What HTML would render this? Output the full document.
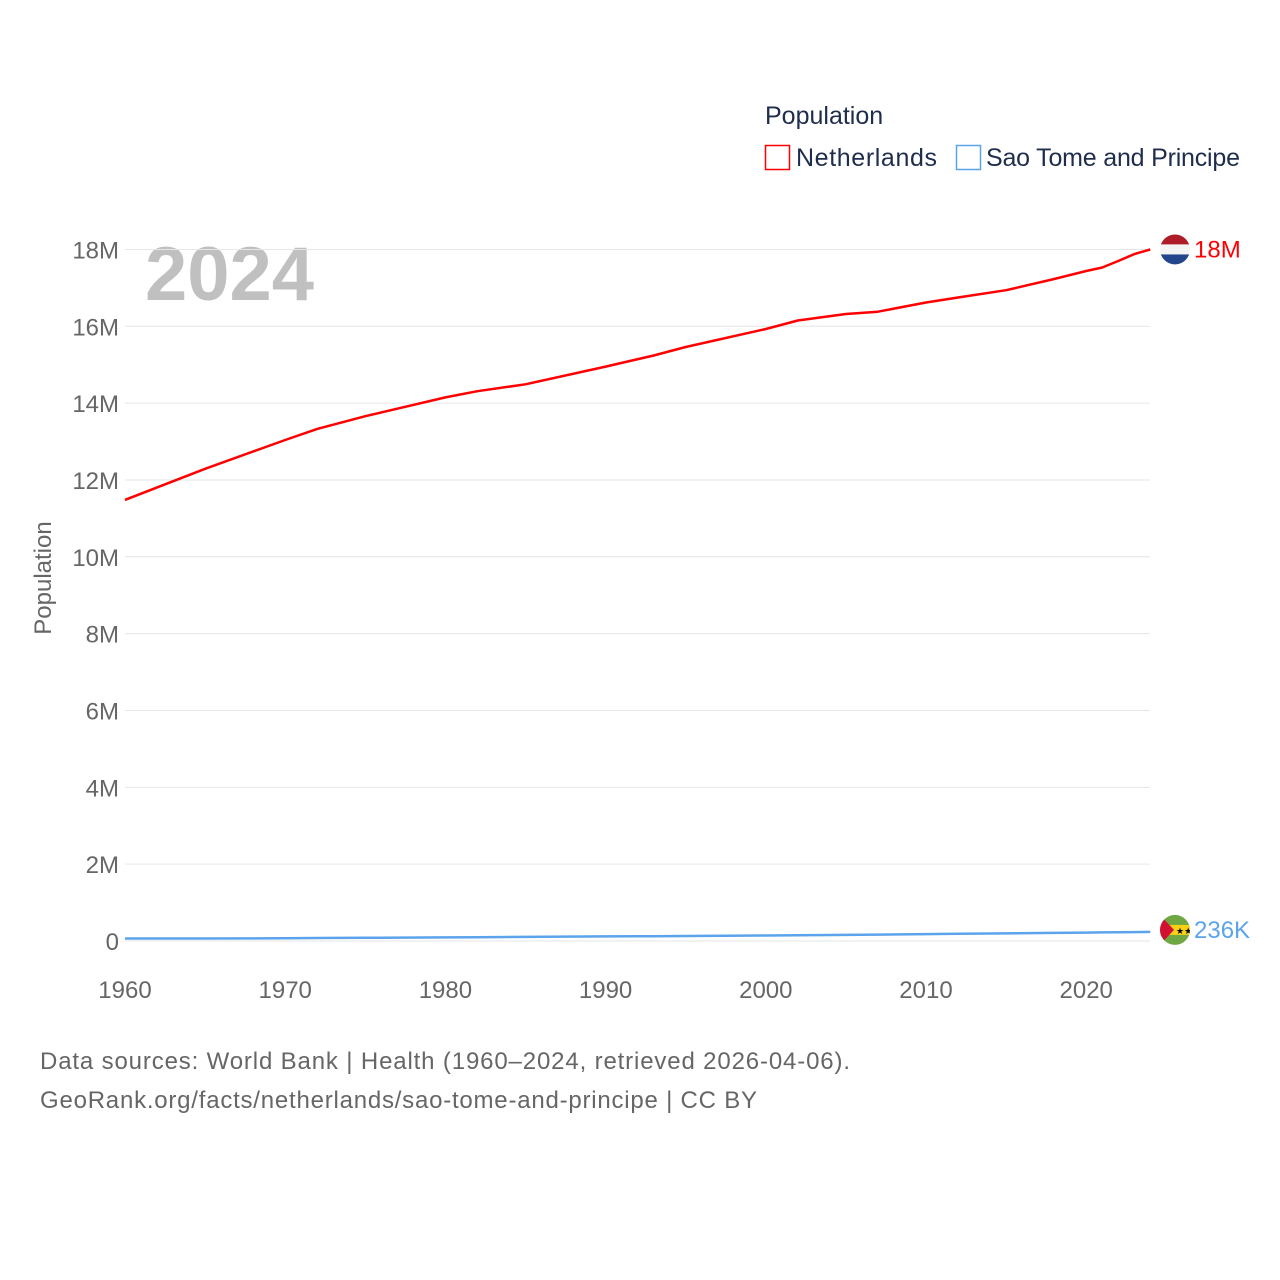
<!DOCTYPE html>
<html><head><meta charset="utf-8"><style>
body{margin:0;background:#fff;}
svg{display:block;font-family:"Liberation Sans",sans-serif;}
</style></head><body>
<svg id="chart" width="1280" height="1280" viewBox="0 0 1280 1280">
  <text x="765" y="124" font-size="25" fill="#1f2d4d">Population</text>
  <rect x="765.5" y="145.5" width="24" height="24" fill="none" stroke="#ff0000" stroke-width="1.5"/>
  <text x="796" y="166" font-size="25" fill="#1f2d4d" textLength="141">Netherlands</text>
  <rect x="956.5" y="145.5" width="24" height="24" fill="none" stroke="#5ba4ec" stroke-width="1.5"/>
  <text x="986" y="166" font-size="25" fill="#1f2d4d" textLength="254">Sao Tome and Principe</text>
  <text x="145" y="300" font-size="76" font-weight="bold" fill="#c0c0c0">2024</text>
  <text transform="translate(51,578) rotate(-90)" text-anchor="middle" font-size="24" fill="#666">Population</text>
  <g id="grid"></g>
  <g id="series"></g>
  <text x="40" y="1069" font-size="24" fill="#666" textLength="810">Data sources: World Bank | Health (1960–2024, retrieved 2026-04-06).</text>
  <text x="40" y="1108" font-size="24" fill="#666" textLength="717">GeoRank.org/facts/netherlands/sao-tome-and-principe | CC BY</text>
</svg>
<script>
const years = [1960,1965,1970,1972,1975,1980,1982,1985,1990,1993,1995,2000,2002,2005,2007,2010,2012,2015,2018,2020,2021,2022,2023,2024];
const netherlands = [11.48,12.29,13.04,13.33,13.66,14.15,14.31,14.49,14.95,15.24,15.46,15.93,16.15,16.32,16.38,16.62,16.75,16.94,17.23,17.44,17.53,17.70,17.88,18.0];
const saoTome = [0.064,0.066,0.074,0.077,0.082,0.095,0.099,0.106,0.119,0.126,0.131,0.142,0.148,0.158,0.166,0.180,0.187,0.198,0.210,0.218,0.223,0.228,0.232,0.236];
const yTicks = [0,2,4,6,8,10,12,14,16,18];
const yTickLabels = ["0","2M","4M","6M","8M","10M","12M","14M","16M","18M"];
const xTicks = [1960,1970,1980,1990,2000,2010,2020];

const NS="http://www.w3.org/2000/svg";
const x = yr => 125 + (yr-1960)*16.02;
const y = v => 941 - v*38.42;
const grid=document.getElementById('grid'), series=document.getElementById('series');
function mk(tag,attrs,parent){const e=document.createElementNS(NS,tag);for(const k in attrs)e.setAttribute(k,attrs[k]);parent.appendChild(e);return e;}
yTicks.forEach((t,i)=>{
  const l=mk('line',{x1:125,x2:1150,y1:y(t),y2:y(t),stroke:'#e6e6e6','stroke-width':1},grid);
  
  
  const tx=mk('text',{x:119,y:y(t)+9,'text-anchor':'end','font-size':24,fill:'#666'},grid);
  tx.textContent=yTickLabels[i];
  
  
});
xTicks.forEach(t=>{
  const tx=mk('text',{x:x(t),y:998,'text-anchor':'middle','font-size':24,fill:'#666'},grid);
  tx.textContent=String(t);
  
  
});
function path(vals){return vals.map((v,i)=>(i?'L':'M')+x(years[i]).toFixed(1)+','+y(v).toFixed(1)).join(' ');}
const p1=mk('path',{d:path(saoTome),fill:'none',stroke:'#5ba4ec','stroke-width':2.5,'stroke-linejoin':'round'},series);


const p2=mk('path',{d:path(netherlands),fill:'none',stroke:'#ff0000','stroke-width':2.5,'stroke-linejoin':'round'},series);



const lastN=netherlands[netherlands.length-1], lastS=saoTome[saoTome.length-1];
const cyN=y(lastN), cyS=y(lastS)-2;
const fN=mk('g',{},series);


const cpN=mk('clipPath',{id:'cN'},fN);
mk('circle',{cx:1175,cy:cyN,r:15},cpN);
const gN=mk('g',{'clip-path':'url(#cN)'},fN);
mk('rect',{x:1160,y:cyN-15,width:30,height:10,fill:'#ae1c28'},gN);
mk('rect',{x:1160,y:cyN-5,width:30,height:10,fill:'#f4f4f4'},gN);
mk('rect',{x:1160,y:cyN+5,width:30,height:10,fill:'#21468b'},gN);
const tN=mk('text',{x:1194,y:cyN+8,'font-size':24,fill:'#ff0000'},series);
tN.textContent='18M';


const fS=mk('g',{},series);


const cp=mk('clipPath',{id:'cS'},fS);
mk('circle',{cx:1175,cy:cyS,r:15},cp);
const gS=mk('g',{'clip-path':'url(#cS)'},fS);
mk('rect',{x:1160,y:cyS-15,width:30,height:30,fill:'#6fa843'},gS);
mk('rect',{x:1160,y:cyS-5,width:30,height:10,fill:'#f7d116'},gS);
mk('polygon',{points:`1160,${cyS-15} 1174,${cyS} 1160,${cyS+15}`,fill:'#d21034'},gS);
mk('text',{x:1176,y:cyS+4,'font-size':9,fill:'#000'},gS).textContent='★★';
const tS=mk('text',{x:1194,y:cyS+8,'font-size':24,fill:'#5ba4ec'},series);
tS.textContent='236K';


</script>
</body></html>
